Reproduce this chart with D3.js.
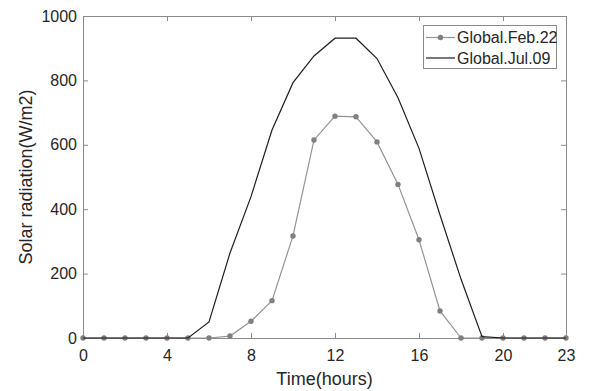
<!DOCTYPE html>
<html>
<head>
<meta charset="utf-8">
<script src="https://cdn.jsdelivr.net/npm/d3@7"></script>
<style>
  html, body { margin: 0; padding: 0; background: #fff; }
  svg { display: block; font-family: "Liberation Sans", Arial, Helvetica, sans-serif; }
</style>
</head>
<body>
<svg id="chart" width="592" height="391"></svg>
<script>
// Hourly global solar radiation on two days (W/m2)
const hours = d3.range(0, 24);
const febValues = [0, 0, 0, 0, 0, 0, 0, 6, 52, 116, 317, 615, 689, 687, 609, 477, 305, 84, 0, 0, 0, 0, 0, 0];
const julValues = [0, 0, 0, 0, 0, 0, 50, 264, 439, 646, 793, 876, 931, 931, 868, 746, 589, 382, 183, 4, 0, 0, 0, 0];
const seriesNames = ["Global.Feb.22", "Global.Jul.09"];
const xTicks = [0, 4, 8, 12, 16, 20, 23];
const yTicks = [0, 200, 400, 600, 800, 1000];
const xLabel = "Time(hours)";
const yLabel = "Solar radiation(W/m2)";

const svg = d3.select("#chart");
const m = { left: 83, right: 26, top: 16, bottom: 53 };
const W = 592, H = 391;
const x = d3.scaleLinear().domain([0, 23]).range([m.left, W - m.right]);
const y = d3.scaleLinear().domain([0, 1000]).range([H - m.bottom, m.top]);

const axisColor = "#8a8a8a";
const textColor = "#262626";
const tickLen = 5;

// Axes with inward ticks on all four sides
function styleAxis(g) {
  g.select(".domain").attr("stroke", axisColor).attr("stroke-width", 1);
  g.selectAll(".tick line").attr("stroke", axisColor);
  g.selectAll(".tick text").attr("fill", textColor).attr("font-size", 16);
}
svg.append("g").attr("transform", `translate(0,${y(0)})`)
  .call(d3.axisBottom(x).tickValues(xTicks).tickSizeInner(-tickLen).tickSizeOuter(0).tickPadding(12).tickFormat(d3.format("d")))
  .call(styleAxis)
  .call(g => g.selectAll(".tick text").attr("dy", "0.71em"));
svg.append("g").attr("transform", `translate(0,${y(1000)})`)
  .call(d3.axisTop(x).tickValues(xTicks).tickSizeInner(-tickLen).tickSizeOuter(0).tickFormat(""))
  .call(styleAxis);
svg.append("g").attr("transform", `translate(${x(0)},0)`)
  .call(d3.axisLeft(y).tickValues(yTicks).tickSizeInner(-tickLen).tickSizeOuter(0).tickPadding(6).tickFormat(d3.format("d")))
  .call(styleAxis);
svg.append("g").attr("transform", `translate(${x(23)},0)`)
  .call(d3.axisRight(y).tickValues(yTicks).tickSizeInner(-tickLen).tickSizeOuter(0).tickFormat(""))
  .call(styleAxis);

// Axis titles
svg.append("text")
  .attr("x", (x(0) + x(23)) / 2).attr("y", 385)
  .attr("text-anchor", "middle").attr("fill", textColor).attr("font-size", 18)
  .text(xLabel);
svg.append("text")
  .attr("transform", `translate(32,${(y(0) + y(1000)) / 2}) rotate(-90)`)
  .attr("text-anchor", "middle").attr("fill", textColor).attr("font-size", 18)
  .text(yLabel);

const line = d3.line().x((d, i) => x(hours[i])).y(d => y(d));

// Feb.22 series: gray line with dot markers
const febColor = "#939393", febMarker = "#7f7f7f";
svg.append("path").datum(febValues)
  .attr("fill", "none").attr("stroke", febColor).attr("stroke-width", 1.2)
  .attr("d", line);
svg.append("g").selectAll("circle").data(febValues).join("circle")
  .attr("cx", (d, i) => x(hours[i])).attr("cy", d => y(d)).attr("r", 2.7)
  .attr("fill", febMarker);

// Jul.09 series: dark line
const julColor = "#1e1e1e";
svg.append("path").datum(julValues)
  .attr("fill", "none").attr("stroke", julColor).attr("stroke-width", 1.2)
  .attr("d", line);

// Legend
const lg = svg.append("g");
lg.append("rect").attr("x", 423.5).attr("y", 25.5).attr("width", 133).attr("height", 43)
  .attr("fill", "#fff").attr("stroke", axisColor).attr("stroke-width", 1);
const rows = [
  { name: seriesNames[0], color: febColor, marker: true, cy: 37.5 },
  { name: seriesNames[1], color: julColor, marker: false, cy: 58 }
];
rows.forEach(r => {
  lg.append("line").attr("x1", 426).attr("x2", 455).attr("y1", r.cy).attr("y2", r.cy)
    .attr("stroke", r.color).attr("stroke-width", 1.2);
  if (r.marker) lg.append("circle").attr("cx", 440.5).attr("cy", r.cy).attr("r", 2.7).attr("fill", febMarker);
  lg.append("text").attr("x", 457).attr("y", r.cy).attr("dy", "0.35em")
    .attr("fill", textColor).attr("font-size", 16).text(r.name);
});
</script>
</body>
</html>
